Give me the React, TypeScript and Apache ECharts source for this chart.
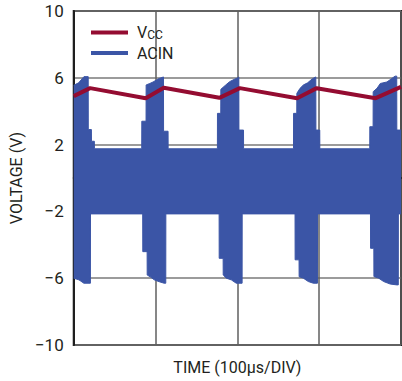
import React, { useEffect, useRef } from "react";
import * as echarts from "echarts";

// Time axis in µs (4 divisions of 100 µs)
const xTicks = [0, 100, 200, 300, 400];
const yTicks = [-10, -6, -2, 2, 6, 10];

// VCC trace (time µs, volts)
const vccTime = [0, 20, 88, 110, 178, 203, 273, 297, 369, 400];
const vccVolts = [4.9, 5.38, 4.78, 5.4, 4.8, 5.38, 4.78, 5.38, 4.78, 5.46];

// ACIN upper envelope (time µs, volts)
const acinHighTime = [
  0, 6, 9, 12.5, 17.7, 17.8, 21.6, 21.7, 25.2, 25.3,
  83.1, 83.2, 88.4, 88.5, 93, 97, 101, 104.5, 109.7, 109.8, 115.3, 115.4,
  175.6, 175.7, 179.7, 179.8, 185.8, 190.6, 195.8, 200.6, 201.8, 201.9, 207.5, 207.6,
  268.6, 268.7, 272.6, 272.7, 276.6, 280.7, 285.9, 289.9, 292.8, 295.9, 296, 300.7, 300.8,
  361.8, 361.9, 365.9, 366, 370.7, 374.7, 382.8, 388.8, 392.8, 394.8, 394.9, 400,
];
const acinHighVolts = [
  5.55, 5.7, 5.87, 6.07, 6.07, 2.9, 2.9, 2.2, 2.2, 1.75,
  1.75, 3.4, 3.4, 5.57, 5.66, 5.75, 5.87, 5.96, 6.05, 2.8, 2.8, 1.75,
  1.75, 3.87, 3.87, 5.31, 5.57, 5.77, 5.9, 6.0, 6.05, 2.87, 2.87, 1.75,
  1.75, 3.87, 3.87, 5.07, 5.37, 5.57, 5.7, 5.87, 5.97, 6.05, 2.87, 2.87, 1.75,
  1.75, 3.07, 3.07, 5.17, 5.37, 5.66, 5.75, 5.96, 6.1, 6.1, 2.87, 2.87,
];

// ACIN lower envelope (time µs, volts)
const acinLowTime = [
  0, 6.4, 12.4, 20.4, 20.5,
  84.3, 84.4, 89.7, 89.8, 94.5, 98.5, 104.5, 110.5, 112.5, 112.6,
  177.7, 177.8, 182.6, 182.7, 186.6, 192.6, 198.6, 205.8, 205.9,
  270.5, 270.6, 275.4, 275.5, 280.7, 286.7, 292.8, 297.9, 298,
  362.7, 362.8, 366.8, 366.9, 372.8, 378.8, 386.8, 394.8, 396.7, 396.8, 400,
];
const acinLowVolts = [
  -6.0, -6.1, -6.3, -6.3, -2.15,
  -2.15, -4.41, -4.41, -5.81, -5.95, -6.1, -6.21, -6.3, -6.3, -2.15,
  -2.15, -4.81, -4.81, -5.81, -6.0, -6.1, -6.3, -6.3, -2.15,
  -2.15, -4.9, -4.9, -5.91, -6.0, -6.2, -6.3, -6.3, -2.15,
  -2.15, -4.21, -4.21, -5.9, -6.0, -6.2, -6.35, -6.4, -6.4, -2.15, -2.15,
];

const RED = "#940c31";
const BLUE = "#3b55a6";
const TEXT = "#231f20";
const FONT = "Roboto, Liberation Sans, Arial, sans-serif";

const zip = (a: number[], b: number[]) => a.map((v, i) => [v, b[i]]);

export default function App() {
  const ref = useRef<HTMLDivElement>(null);
  useEffect(() => {
    if (!ref.current) return;
    const chart = echarts.init(ref.current, null, { renderer: "svg" });
    chart.setOption({
      animation: false,
      backgroundColor: "#ffffff",
      textStyle: { fontFamily: FONT },
      grid: {
        left: 68,
        right: 1,
        top: 11,
        bottom: 36,
        show: true,
        borderColor: "#1e1e1e",
        borderWidth: 2,
      },
      legend: {
        orient: "vertical",
        left: 91,
        top: 24,
        padding: 0,
        itemWidth: 37,
        itemHeight: 4,
        itemGap: 4,
        icon: "rect",
        data: ["VCC", "ACIN"],
        formatter: (name: string) => (name === "VCC" ? "{v|V}{s|CC}" : "{n|" + name + "}"),
        textStyle: {
          fontFamily: FONT,
          color: TEXT,
          padding: [0, 0, 0, 4],
          rich: {
            v: { fontSize: 16, fontFamily: FONT, color: TEXT, lineHeight: 16 },
            s: { fontSize: 12, fontFamily: FONT, color: TEXT, lineHeight: 16, padding: [5, 0, 0, 0] },
            n: { fontSize: 16, fontFamily: FONT, color: TEXT, lineHeight: 16 },
          },
        },
      },
      xAxis: {
        type: "value",
        min: xTicks[0],
        max: xTicks[xTicks.length - 1],
        interval: 100,
        name: "TIME (100µs/DIV)",
        nameLocation: "middle",
        nameGap: 14,
        nameTextStyle: { fontSize: 16, color: TEXT, fontFamily: FONT, verticalAlign: "top" },
        axisLine: { show: true, lineStyle: { color: "#1e1e1e", width: 2 } },
        axisTick: { show: false },
        axisLabel: { show: false },
        splitLine: { show: true, lineStyle: { color: "#5f5f5f", width: 1.5 } },
      },
      yAxis: {
        type: "value",
        min: yTicks[0],
        max: yTicks[yTicks.length - 1],
        interval: 4,
        name: "VOLTAGE (V)",
        nameLocation: "middle",
        nameGap: 45,
        nameTextStyle: { fontSize: 16, color: TEXT, fontFamily: FONT },
        axisLine: { show: true, lineStyle: { color: "#1e1e1e", width: 2 } },
        axisTick: { show: false },
        axisLabel: {
          fontSize: 17,
          color: TEXT,
          fontFamily: FONT,
          margin: 10,
          formatter: (v: number) => String(v).replace("-", "\u2212"),
        },
        splitLine: { show: true, lineStyle: { color: "#7a7a7a", width: 1.5 } },
      },
      series: [
        {
          name: "ACIN",
          type: "line",
          data: zip(acinHighTime, acinHighVolts),
          showSymbol: false,
          color: BLUE,
          lineStyle: { color: BLUE, width: 1 },
          areaStyle: { color: BLUE, opacity: 1 },
          z: 2,
        },
        {
          name: "ACIN",
          type: "line",
          data: zip(acinLowTime, acinLowVolts),
          showSymbol: false,
          color: BLUE,
          lineStyle: { color: BLUE, width: 1 },
          areaStyle: { color: BLUE, opacity: 1 },
          z: 2,
        },
        {
          name: "VCC",
          type: "line",
          data: zip(vccTime, vccVolts),
          showSymbol: false,
          color: RED,
          lineStyle: { color: RED, width: 4 },
          z: 3,
        },
      ],
    });
    return () => chart.dispose();
  }, []);
  return <div ref={ref} style={{ width: 402, height: 381, position: "absolute", left: 0, top: 0 }} />;
}
